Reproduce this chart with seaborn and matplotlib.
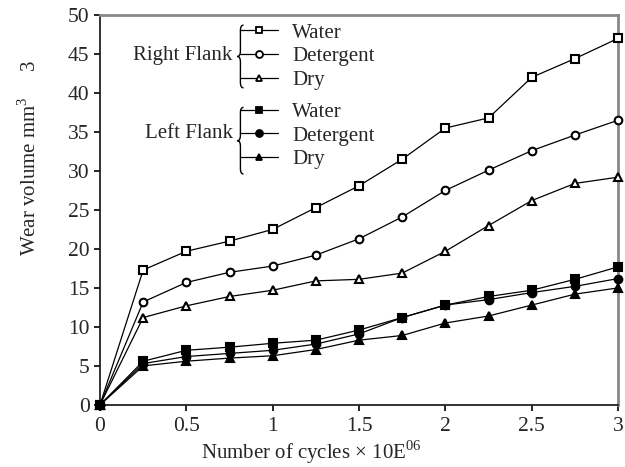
import numpy as np
import pandas as pd
import matplotlib
matplotlib.use("Agg")
import matplotlib.pyplot as plt
from matplotlib.lines import Line2D
from matplotlib.path import Path
from matplotlib.patches import PathPatch
import seaborn as sns

# cycles (x 10E06)
cycles = [0, 0.25, 0.5, 0.75, 1, 1.25, 1.5, 1.75, 2, 2.25, 2.5, 2.75, 3]

# right flank wear volume (mm3)
right_water = [0, 17.3, 19.7, 21.0, 22.5, 25.3, 28.1, 31.5, 35.5, 36.8, 42.0, 44.4, 47.0]
right_detergent = [0, 13.2, 15.7, 17.0, 17.8, 19.2, 21.3, 24.1, 27.5, 30.1, 32.6, 34.6, 36.5]
right_dry = [0, 11.2, 12.7, 13.9, 14.7, 15.9, 16.1, 16.9, 19.7, 23.0, 26.2, 28.4, 29.2]

# left flank wear volume (mm3)
left_water = [0, 5.6, 7.0, 7.4, 7.9, 8.3, 9.6, 11.2, 12.8, 13.9, 14.7, 16.1, 17.7]
left_detergent = [0, 5.3, 6.2, 6.6, 7.0, 7.8, 9.1, 11.2, 12.8, 13.5, 14.4, 15.2, 16.2]
left_dry = [0, 5.0, 5.6, 6.0, 6.3, 7.1, 8.3, 8.9, 10.5, 11.4, 12.8, 14.2, 15.0]

media = ["Water", "Detergent", "Dry"]
markers = {"Water": "s", "Detergent": "o", "Dry": "^"}

rows = []
for flank, series in [("Right", [right_water, right_detergent, right_dry]),
                      ("Left", [left_water, left_detergent, left_dry])]:
    for m, vals in zip(media, series):
        for c, v in zip(cycles, vals):
            rows.append({"Flank": flank, "Medium": m, "Cycles": c, "Wear": v})
df = pd.DataFrame(rows)

sns.set_style("ticks")
plt.rcParams["font.family"] = ["Liberation Serif", "DejaVu Serif"]
plt.rcParams["mathtext.fontset"] = "custom"
plt.rcParams["mathtext.rm"] = "Liberation Serif"

fig = plt.figure(figsize=(6.25, 4.67), dpi=100)
ax = fig.add_axes([0.16, 0.133, 0.829, 0.835])

for flank in ["Right", "Left"]:
    for m in media:
        sub = df[(df["Flank"] == flank) & (df["Medium"] == m)]
        face = "white" if flank == "Right" else "black"
        sns.lineplot(data=sub, x="Cycles", y="Wear", ax=ax, color="black", lw=0.9,
                     marker=markers[m], markersize=6 if m != "Detergent" else 5.5,
                     markerfacecolor=face, markeredgecolor="black", markeredgewidth=1.5,
                     clip_on=False, zorder=3)

ax.set_xlim(0, 3)
ax.set_ylim(0, 50)
ax.set_xticks([0, 0.5, 1, 1.5, 2, 2.5, 3])
ax.set_xticklabels(["0", "0.5", "1", "1.5", "2", "2.5", "3"])
ax.set_yticks(range(0, 51, 5))
ax.tick_params(labelsize=15.5, length=4, width=1.2, color="black")
ax.tick_params(axis="x", pad=5)
ax.set_xlabel("Number of cycles \u00d7 10E$^{06}$", fontsize=15)
ax.xaxis.set_label_coords(0.407, -0.085)
ax.set_ylabel("Wear volume mm$^{3}$     3", fontsize=15)
ax.yaxis.set_label_coords(-0.115, 0.635)

for s in ["left", "bottom"]:
    ax.spines[s].set_color("#222222")
    ax.spines[s].set_linewidth(1.3)
for s in ["top", "right"]:
    ax.spines[s].set_visible(True)
    ax.spines[s].set_color("#888888")
    ax.spines[s].set_linewidth(2)


def brace(x, y0, y1, w=0.012, d=0.014):
    ym = (y0 + y1) / 2
    xm = x + w / 2
    verts = [(x + w, y1), (xm, y1), (xm, y1 - d), (xm, ym + d), (xm, ym), (x, ym),
             (xm, ym), (xm, ym - d), (xm, y0 + d), (xm, y0), (x + w, y0)]
    codes = [Path.MOVETO, Path.CURVE3, Path.CURVE3, Path.LINETO, Path.CURVE3, Path.CURVE3,
             Path.CURVE3, Path.CURVE3, Path.LINETO, Path.CURVE3, Path.CURVE3]
    ax.add_patch(PathPatch(Path(verts, codes), transform=ax.transAxes, fill=False,
                           lw=1.0, ec="black", clip_on=False))


def handles(face):
    return [Line2D([], [], color="black", lw=0.9, marker=markers[m], ms=5,
                   mfc=face, mec="black", mew=1.3) for m in media]


leg_kw = dict(loc="upper left", frameon=False, fontsize=15, borderpad=0, borderaxespad=0,
              handlelength=1.83, handletextpad=0.67, labelspacing=0.2)
leg1 = ax.legend(handles("white"), media, bbox_to_anchor=(0.270, 0.979), **leg_kw)
ax.add_artist(leg1)
ax.legend(handles("black"), media, bbox_to_anchor=(0.270, 0.776), **leg_kw)

brace(0.265, 0.813, 0.974)
brace(0.265, 0.592, 0.763)
ax.text(0.256, 0.897, "Right Flank", transform=ax.transAxes, ha="right", va="center", fontsize=15)
ax.text(0.256, 0.695, "Left Flank", transform=ax.transAxes, ha="right", va="center", fontsize=15)

fig.savefig("out.png", dpi=100)
